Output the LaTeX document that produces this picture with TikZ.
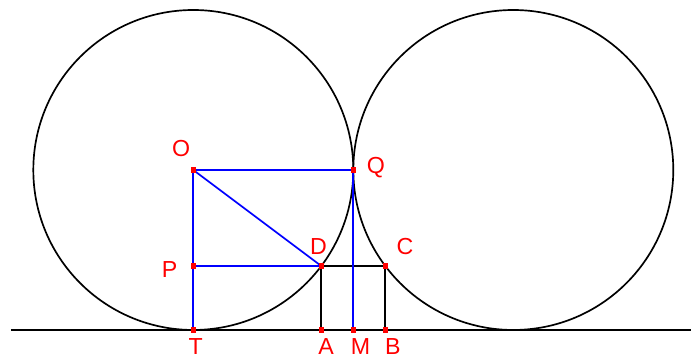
\documentclass[tikz,border=0pt]{standalone}
\usepackage{fontspec}
\setmainfont{Liberation Sans}
\usepackage{tikz}
\usetikzlibrary{positioning}
\tikzset{
  ptdot/.style={rectangle, fill=red, inner sep=0pt, minimum size=3.8pt},
  ptlabel/.style={text=red, inner sep=0pt, font=\fontsize{16.5}{19}\selectfont},
  curve/.style={black, line width=1.2pt},
  aux/.style={blue, line width=1.2pt},
}
\begin{document}
\begin{tikzpicture}
  \useasboundingbox (-4.833,-0.725) rectangle (12.593,8.25);
  % points
  \coordinate (R) at (8,4);
  \coordinate (l0) at (-4.56,0);
  \coordinate (l1) at (12.44,0);
  \node[ptdot] (T) at (0,0) {};
  \node[ptdot] (O) at (0,4) {};
  \node[ptdot] (Q) at (4,4) {};
  \node[ptdot] (P) at (0,1.6) {};
  \node[ptdot] (D) at (3.2,1.6) {};
  \node[ptdot] (C) at (4.8,1.6) {};
  \node[ptdot] (A) at (3.2,0) {};
  \node[ptdot] (M) at (4,0) {};
  \node[ptdot] (B) at (4.8,0) {};
  % circles and ground line
  \draw[curve] (O.center) circle (4);
  \draw[curve] (R) circle (4);
  \draw[curve] (l0) -- (l1);
  \draw[curve] (A.center) -- (B.center) -- (C.center) -- (D.center) -- cycle;
  % construction
  \draw[aux] (O.center) -- (Q.center);
  \draw[aux] (O.center) -- (T.center);
  \draw[aux] (O.center) -- (D.center);
  \draw[aux] (P.center) -- (D.center);
  \draw[aux] (Q.center) -- (M.center);
  \foreach \p in {T,O,Q,P,D,C,A,M,B} { \node[ptdot] at (\p) {}; }
  % labels
  \node[ptlabel, above left=0.25cm and 0cm of O] (lO) {O};
  \node[ptlabel, right=0.26cm of Q, yshift=0.05cm] (lQ) {Q};
  \node[ptlabel, left=0.32cm of P, yshift=-0.1cm] (lP) {P};
  \node[ptlabel, above=0.2cm of D, xshift=-0.07cm] (lD) {D};
  \node[ptlabel, above right=0.2cm and 0.2cm of C] (lC) {C};
  \node[ptlabel, below=0.13cm of T, xshift=0.06cm] (lT) {T};
  \node[ptlabel, below=0.13cm of A, xshift=0.12cm] (lA) {A};
  \node[ptlabel, below=0.13cm of M, xshift=0.18cm] (lM) {M};
  \node[ptlabel, below=0.13cm of B, xshift=0.19cm] (lB) {B};
\end{tikzpicture}
\end{document}
